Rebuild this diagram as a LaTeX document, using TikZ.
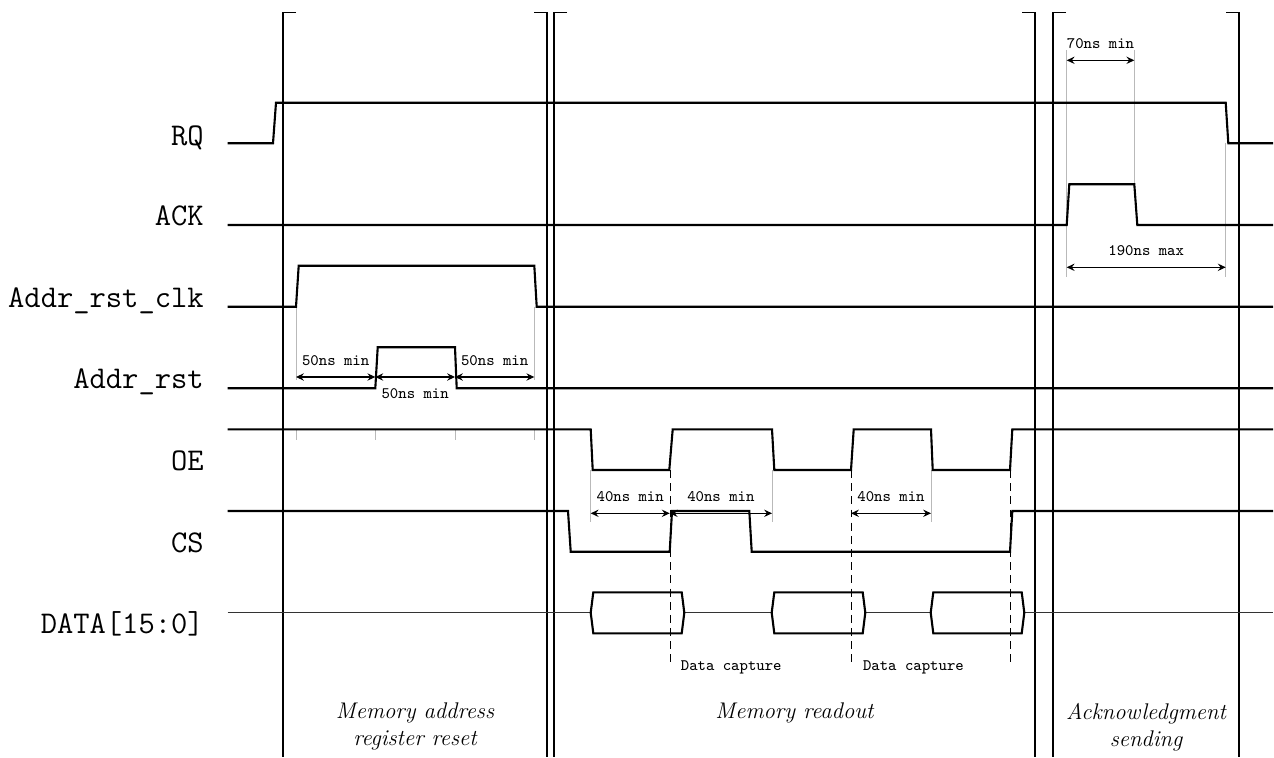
\documentclass[tikz,border=0pt]{standalone}
\usepackage{tikz}
\usetikzlibrary{arrows.meta, positioning}

\begin{document}
\begin{tikzpicture}[x=0.02cm, y=-0.02cm,
	sigline/.style={line width=1.2pt, line join=miter},
	guide/.style={gray!55, line width=0.4pt},
	dimline/.style={<->, >={Stealth[length=4.5pt, width=4.2pt, inset=1.6pt]}, line width=0.6pt},
	phaseline/.style={line width=0.6pt},
	signame/.style={anchor=base east, inner sep=0, font=\fontsize{18}{20}\selectfont\ttfamily},
	timenote/.style={inner sep=0, font=\fontsize{9.1}{11}\selectfont\ttfamily},
	phasename/.style={anchor=north, inner sep=0, align=center, font=\fontsize{12.9}{15.4}\selectfont\itshape}]
\useasboundingbox (0,0) rectangle (1274,757);

% phases
\foreach \l/\r in {283/547, 554/1035, 1053/1239} {
	\draw[phaseline] (\l+13,12.7) -| (\l,757);
	\draw[phaseline] (\r-13,12.7) -| (\r,757);
}
\node[phasename] (reset) at (415,702.5) {Memory address\\register reset};
\node[phasename] (readout) at (794.5,702.5) {Memory readout};
\node[phasename] (acksend) at (1146,702.5) {Acknowledgment\\sending};

% signal names
\node[signame] (rq) at (204,145) {RQ};
\node[signame] (ack) at (204,225) {ACK};
\node[signame] (clk) at (204,307) {Addr\_rst\_clk};
\node[signame] (rst) at (204,388.5) {Addr\_rst};
\node[signame] (oe) at (204,470) {OE};
\node[signame] (cs) at (204,552) {CS};
\node[signame] (data) at (204,633) {DATA[15:0]};

% guides
\draw[guide] (296,306.7) -- (296,380) (534.3,306.7) -- (534.3,380);
\foreach \x in {296, 375.3, 455, 534.3}
	\draw[guide] (\x,430) -- (\x,440);
\draw[guide] (1066.7,50) -- (1066.7,277) (1134.3,50) -- (1134.3,184.3) (1225.7,143.3) -- (1225.7,277);
\foreach \x in {590.7, 772, 931}
	\draw[guide] (\x,470) -- (\x,521.7);

% waveforms
\draw[sigline] (227.7,143.3) -- (273,143.3) -- (276,102.7) -- (1225.7,102.7) -- (1228.3,143.3) -- (1273,143.3);
\draw[sigline] (227.7,225) -- (1066.7,225) -- (1069.3,184.3) -- (1134.3,184.3) -- (1137.3,225) -- (1273,225);
\draw[sigline] (227.7,306.7) -- (296,306.7) -- (298.7,265.7) -- (534.3,265.7) -- (536.7,306.7) -- (1273,306.7);
\draw[sigline] (227.7,388.3) -- (375.3,388.3) -- (377.7,347.3) -- (455,347.3) -- (456.7,388.3) -- (1273,388.3);
\draw[sigline] (227.7,429.3) -- (590.7,429.3) -- (592.7,470) -- (669.3,470) -- (672.7,429.3) -- (772,429.3) -- (774.3,470)
	-- (851,470) -- (853.7,429.3) -- (931,429.3) -- (932.7,470) -- (1010,470) -- (1012.3,429.3) -- (1273,429.3);
\draw[sigline] (227.7,511) -- (568,511) -- (570.7,551.7) -- (669.7,551.7) -- (672,511) -- (749.3,511) -- (751.7,551.7)
	-- (1010,551.7) -- (1012.3,511) -- (1273,511);
\draw[black!80, line width=0.5pt] (227.7,612.7) -- (1273,612.7);
\foreach \a in {590.7, 771.7, 930.7}
	\draw[sigline, fill=white] (\a,612.7) -- ++(2.6,-20.4) -- ++(88.4,0) -- ++(2.6,20.4) -- ++(-2.6,20.6) -- ++(-88.4,0) -- cycle;

% capture points
\foreach \x in {670, 851.5, 1010}
	\draw[dash pattern=on 4.5pt off 3pt, line width=0.5pt] (\x,470) -- (\x,667);
\node[timenote, anchor=base west] (cap1) at (680.5,670) {Data capture};
\node[timenote, anchor=base west] (cap2) at (862.7,670) {Data capture};

% timings
\draw[dimline] (296,377) -- node[timenote, above=6.3pt] {50ns min} (375.3,377);
\draw[dimline] (375.3,377) -- node[timenote, below=6.3pt] {50ns min} (455,377);
\draw[dimline] (455,377) -- node[timenote, above=6.3pt] {50ns min} (534.3,377);
\draw[dimline] (590.7,513.3) -- node[timenote, above=6.3pt] {40ns min} (669.7,513.3);
\draw[dimline] (669.7,513.3) -- node[timenote, above=6.3pt] {40ns min} (772,513.3);
\draw[dimline] (851,513.3) -- node[timenote, above=6.3pt] {40ns min} (931,513.3);
\draw[dimline] (1066.7,60.3) -- node[timenote, above=6.3pt] {70ns min} (1134.3,60.3);
\draw[dimline] (1066.7,267.3) -- node[timenote, above=6.3pt] {190ns max} (1225.7,267.3);

\end{tikzpicture}
\end{document}
